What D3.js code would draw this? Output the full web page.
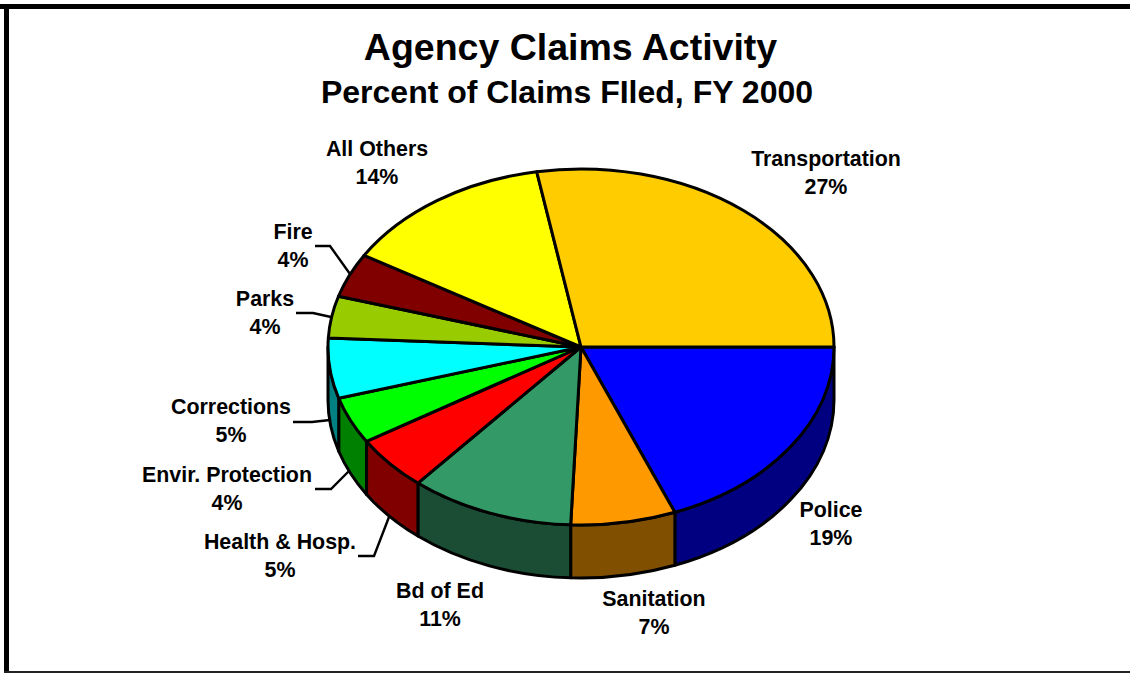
<!DOCTYPE html>
<html><head><meta charset="utf-8">
<script src="https://cdn.jsdelivr.net/npm/d3@7/dist/d3.min.js"></script>
<style>html,body{margin:0;padding:0;background:#fff}svg{display:block}text{font-family:"Liberation Sans",Arial,sans-serif;font-weight:bold;fill:#000}</style>
</head><body><div id="c"></div>
<script>
const categories=["Police","Sanitation","Bd of Ed","Health & Hosp.","Envir. Protection","Corrections","Parks","Fire","All Others","Transportation"];
const values=[18.95,6.7,10.5,4.95,4.25,5.45,3.8,4,13.6,27.8];
const percentLabels=["19%","7%","11%","5%","4%","5%","4%","4%","14%","27%"];
const topColors=["#0000ff","#ff9900","#339966","#ff0000","#00ff00","#00ffff","#99cc00","#800000","#ffff00","#ffcc00"];
const sideColors=["#000080","#805000","#1a4d33","#800000","#008000","#008080","#4d6600","#400000","#808000","#806600"];
const labelPos=[[831,510],[654,599],[440,591],[280,542],[227,475],[231,407],[265,299],[293,232],[377,149],[826,159]];
const leaders=[null,null,null,[[358,556],[374,556],[389,517]],[[315,489],[331,489],[349,471]],[[293,422],[312,422],[330,420]],[[296,313],[313,313],[331,317]],[[315,246],[330,246],[350,274]],null,null];

const W=1130,H=673,cx=581,cy=347,rx=253,ry=178,depth=53;
const svg=d3.select("#c").append("svg").attr("width",W).attr("height",H);
svg.append("rect").attr("width",W).attr("height",H).attr("fill","#fff");
svg.append("rect").attr("x",0).attr("y",4).attr("width",W).attr("height",5).attr("fill","#000");
svg.append("rect").attr("x",4).attr("y",4).attr("width",5).attr("height",H-4).attr("fill","#000");
svg.append("rect").attr("x",4).attr("y",671).attr("width",W-4).attr("height",2).attr("fill","#222");

svg.append("text").attr("x",570.5).attr("y",60).attr("text-anchor","middle").attr("font-size",37.5).text("Agency Claims Activity");
svg.append("text").attr("x",567).attr("y",103).attr("text-anchor","middle").attr("font-size",32).text("Percent of Claims FIled, FY 2000");

const pie=d3.pie().sort(null).value(d=>d).startAngle(Math.PI/2).endAngle(Math.PI/2+2*Math.PI);
const arcs=pie(values).map((a,i)=>({...a,i,s:a.startAngle-Math.PI/2,e:a.endAngle-Math.PI/2}));
const px=t=>cx+rx*Math.cos(t),py=t=>cy+ry*Math.sin(t);

const sides=svg.append("g");
arcs.forEach(a=>{
  const s=Math.max(a.s,0),e=Math.min(a.e,Math.PI);
  if(e<=s)return;
  const d=`M${px(s)},${py(s)}A${rx},${ry} 0 0 1 ${px(e)},${py(e)}L${px(e)},${py(e)+depth}A${rx},${ry} 0 0 0 ${px(s)},${py(s)+depth}Z`;
  sides.append("path").attr("d",d).attr("fill",sideColors[a.i]).attr("stroke","#000").attr("stroke-width",3).attr("stroke-linejoin","round");
});
const tops=svg.append("g");
arcs.forEach(a=>{
  const large=(a.e-a.s)>Math.PI?1:0;
  tops.append("path").attr("d",`M${cx},${cy}L${px(a.s)},${py(a.s)}A${rx},${ry} 0 ${large} 1 ${px(a.e)},${py(a.e)}Z`)
    .attr("fill",topColors[a.i]).attr("stroke","#000").attr("stroke-width",3).attr("stroke-linejoin","round");
});
const line=d3.line();
leaders.forEach(l=>{if(l)svg.append("path").attr("d",line(l)).attr("fill","none").attr("stroke","#000").attr("stroke-width",2.4);});
categories.forEach((c,i)=>{
  const [x,y]=labelPos[i];
  const t=svg.append("text").attr("text-anchor","middle").attr("font-size",21.4);
  t.append("tspan").attr("x",x).attr("y",y+7).text(c);
  t.append("tspan").attr("x",x).attr("y",y+35).text(percentLabels[i]);
});
</script></body></html>
